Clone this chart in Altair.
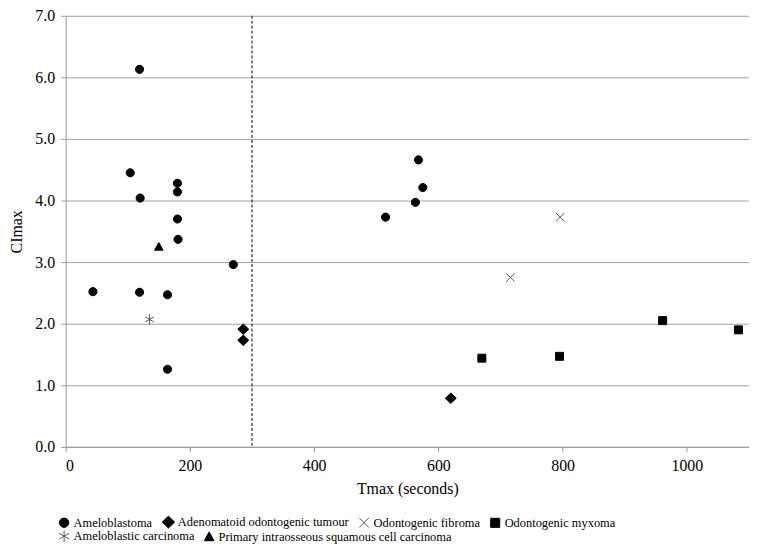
import altair as alt
import pandas as pd

types = ["Ameloblastoma", "Adenomatoid odontogenic tumour", "Odontogenic fibroma",
         "Odontogenic myxoma", "Ameloblastic carcinoma",
         "Primary intraosseous squamous cell carcinoma"]

amelo_t = [119, 104, 180, 180, 120, 180, 181, 270, 44, 119, 164, 164, 515, 563, 568, 575]
amelo_c = [6.13, 4.45, 4.28, 4.14, 4.04, 3.70, 3.37, 2.96, 2.52, 2.51, 2.47, 1.26, 3.73, 3.97, 4.66, 4.21]
aot_t = [286, 286, 620]
aot_c = [1.91, 1.73, 0.79]
fib_t = [796, 716]
fib_c = [3.73, 2.75]
myx_t = [670, 795, 961, 1083]
myx_c = [1.44, 1.47, 2.05, 1.90]
carc_t = [135]
carc_c = [2.07]
pioscc_t = [150]
pioscc_c = [3.25]

rows = []
for name, ts, cs in zip(types, [amelo_t, aot_t, fib_t, myx_t, carc_t, pioscc_t],
                        [amelo_c, aot_c, fib_c, myx_c, carc_c, pioscc_c]):
    for t, c in zip(ts, cs):
        rows.append({"Tmax": t, "CImax": c, "Type": name})
df = pd.DataFrame(rows)

circle = "M0.82,0A0.82,0.82,0,1,1,-0.82,0A0.82,0.82,0,1,1,0.82,0Z"
diamond = "M0,-1.05L1.1,0L0,1.05L-1.1,0Z"
xpath = "M-0.85,-0.85L0.85,0.85M-0.85,0.85L0.85,-0.85"
square = "M-0.8,-0.8L0.8,-0.8L0.8,0.8L-0.8,0.8Z"
starpath = "M0,-1L0,1M-0.87,-0.5L0.87,0.5M-0.87,0.5L0.87,-0.5"
triangle = "M0,-0.85L0.85,0.7L-0.85,0.7Z"
shapes = [circle, diamond, xpath, square, starpath, triangle]
fills = ["black", "black", "transparent", "black", "transparent", "black"]
strokes = ["black", "black", "#555555", "black", "#555555", "black"]

font = "Liberation Serif"

xenc = alt.X("Tmax:Q", scale=alt.Scale(domain=[0, 1100], nice=False),
             axis=alt.Axis(values=[0, 200, 400, 600, 800, 1000], grid=False, format="d",
                           title="Tmax (seconds)"))
yenc = alt.Y("CImax:Q", scale=alt.Scale(domain=[0, 7], nice=False),
             axis=alt.Axis(values=[0, 1, 2, 3, 4, 5, 6, 7], format=".1f",
                           grid=True, title="CImax"))


def make_legend(ly):
    return alt.Legend(title=None, orient="none", legendX=-8, legendY=ly,
                      direction="horizontal", labelFont=font, labelFontSize=12.5,
                      labelColor="black", symbolSize=130, symbolStrokeWidth=1,
                      columnPadding=7, labelOffset=3, labelLimit=400)


def layer_for(idx, ly):
    dom = [types[i] for i in idx]
    sub = df[df["Type"].isin(dom)]
    lg = make_legend(ly)
    return alt.Chart(sub).mark_point(strokeWidth=1, fillOpacity=1, opacity=1, size=100).encode(
        x=xenc, y=yenc,
        shape=alt.Shape("Type:N", scale=alt.Scale(domain=dom, range=[shapes[i] for i in idx]), legend=lg),
        fill=alt.Fill("Type:N", scale=alt.Scale(domain=dom, range=[fills[i] for i in idx]), legend=lg),
        stroke=alt.Stroke("Type:N", scale=alt.Scale(domain=dom, range=[strokes[i] for i in idx]), legend=lg),
    )


points1 = layer_for([0, 1, 2, 3], 503)
points2 = layer_for([4, 5], 517)

cutoff = pd.DataFrame({"x": [300]})
rule = alt.Chart(cutoff).mark_rule(color="black", strokeDash=[3, 2], strokeWidth=1).encode(
    x="x:Q"
)

chart = alt.layer(rule, points1, points2).resolve_scale(
    shape="independent", fill="independent", stroke="independent"
).resolve_legend(
    shape="independent", fill="independent", stroke="independent"
).properties(
    width=688, height=434,
    autosize=alt.AutoSizeParams(type="none"),
    padding={"left": 58, "top": 6, "right": 0, "bottom": 100},
).configure_view(stroke=None).configure_axis(
    labelFont=font, titleFont=font, labelFontSize=16, titleFontSize=16,
    labelColor="black", titleColor="black", titleFontWeight="normal",
    domainColor="#999999", tickColor="#999999", gridColor="#a0a0a0",
    tickSize=5, labelPadding=6,
).configure_axisY(titlePadding=10).configure_axisX(titlePadding=7)

chart.save("out.html", embed_options={"renderer": "svg", "actions": False})
